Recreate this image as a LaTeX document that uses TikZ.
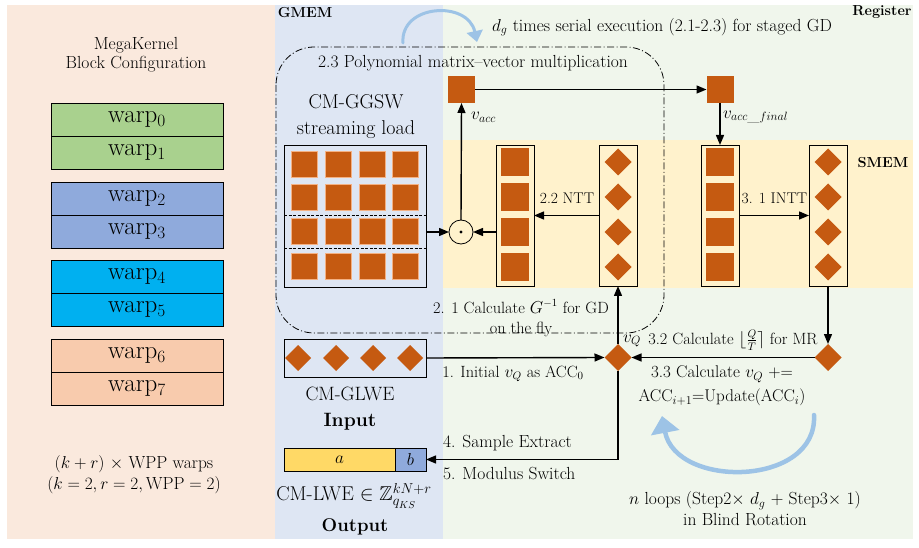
\documentclass[tikz,border=0pt]{standalone}
\usepackage{amssymb}
\usepackage{fontspec}
\usetikzlibrary{arrows.meta,shapes.geometric}
\definecolor{peachbg}{HTML}{FAE9DD}
\definecolor{gmembg}{HTML}{DEE6F3}
\definecolor{regbg}{HTML}{F0F6EC}
\definecolor{smembg}{HTML}{FFF2CC}
\definecolor{rust}{HTML}{C55A11}
\definecolor{rustlight}{HTML}{F4B183}
\definecolor{wgreen}{HTML}{A9D18E}
\definecolor{wblue}{HTML}{8FAADC}
\definecolor{wcyan}{HTML}{00B0F0}
\definecolor{wpeach}{HTML}{F8CBAD}
\definecolor{ayellow}{HTML}{FFD966}
\definecolor{arcblue}{HTML}{9DC3E6}
\newcommand{\fsz}[2]{\fontsize{#1}{#2}\selectfont}
\tikzset{
  every node/.style={inner sep=0pt, outer sep=0pt},
  lbl/.style={font=\fsz{17.5}{19}, align=center},
  midlbl/.style={font=\fsz{16.3}{20}, align=center},
  bigtxt/.style={font=\fsz{20}{26}, align=center},
  hdr/.style={font=\fsz{14.5}{17}\bfseries},
  bx/.style={draw=black, line width=0.8pt},
  warpbox/.style={bx, minimum width=172pt, minimum height=33pt, font=\fsz{25}{26}},
  colbox/.style={bx, minimum width=38pt, minimum height=141pt},
  sq/.style={fill=rust, minimum size=28pt},
  gsq/.style={fill=rust, draw=rustlight, line width=0.5pt, minimum size=26pt},
  dia/.style={diamond, fill=rust, minimum size=27pt},
  arr/.style={-{Triangle[length=10pt,width=8pt]}, line width=1.4pt},
  blarc/.style={draw=arcblue, line cap=round},
  dashdotframe/.style={line width=0.8pt, dash pattern=on 7pt off 2.5pt on 1pt off 2.5pt},
}
\begin{document}
\begin{tikzpicture}[x=1pt,y=-1pt]
\useasboundingbox (0,0) rectangle (919,548);
\fill[white] (0,0) rectangle (919,548);
% panels
\fill[peachbg] (7,5) rectangle (275,539);
\fill[gmembg] (275,5) rectangle (443,539);
\fill[regbg] (443,5) rectangle (913,539);
\fill[smembg] (443,140) rectangle (913,288);

% headers
\node[hdr] (gmem) at (305,13) {GMEM};
\node[hdr] (reg) at (882,12) {Register};
\node[hdr] (smem) at (883,163) {SMEM};

% left panel
\node[lbl] (mk) at (136,55) {MegaKernel\\Block Configuration};
\node[warpbox, fill=wgreen] (w0) at (137,119.5) {warp$_0$};
\node[warpbox, fill=wgreen] (w1) at (137,152.5) {warp$_1$};
\node[warpbox, fill=wblue] (w2) at (137,198.5) {warp$_2$};
\node[warpbox, fill=wblue] (w3) at (137,231.5) {warp$_3$};
\node[warpbox, fill=wcyan] (w4) at (137,276.5) {warp$_4$};
\node[warpbox, fill=wcyan] (w5) at (137,309.5) {warp$_5$};
\node[warpbox, fill=wpeach] (w6) at (137,355.5) {warp$_6$};
\node[warpbox, fill=wpeach] (w7) at (137,388.5) {warp$_7$};
\node[lbl, font=\fsz{17.5}{21}] (cfg) at (134,474.5) {$(k+r)\ \times$ WPP warps\\$(k=2, r=2, \mathrm{WPP}=2)$};

% top blue arc
\draw[blarc, line width=3pt, -{Triangle[length=11pt,width=16pt]}] (403,43) .. controls (400,4) and (468,0) .. (477,42);
\node[lbl] (dgtxt) at (662,27) {$d_g$ times serial execution (2.1-2.3) for staged GD};

% dash-dot frame
\draw[dashdotframe, rounded corners=38pt] (276,47) rectangle (664,333);
\node[lbl] (polytxt) at (473,63) {2.3 Polynomial matrix--vector multiplication};

% GGSW
\node[bigtxt] (ggswtxt) at (356,117) {CM-GGSW\\streaming load};
\node[bx, minimum width=142pt, minimum height=142pt] (ggsw) at (355,216) {};
\foreach \x [count=\i] in {304,338,372,405.5}
  \foreach \y [count=\j] in {164,197,231.5,266}
    \node[gsq] (g\i\j) at (\x,\y) {};
\draw[dashed, line width=0.6pt, dash pattern=on 3pt off 1.5pt] (ggsw.west |- 0,215.5) -- (ggsw.east |- 0,215.5);
\draw[dashed, line width=0.6pt, dash pattern=on 3pt off 1.5pt] (ggsw.west |- 0,248) -- (ggsw.east |- 0,248);

% product circle
\node[circle, bx, minimum size=24pt] (dot) at (461,232) {};
\fill (dot.center) circle (1.6pt);

% registers
\node[sq, minimum size=27pt] (vacc) at (461.5,89.5) {};
\node[sq, minimum size=27pt] (vfin) at (720,89.5) {};

% SMEM columns
\node[colbox] (colA) at (515,215.5) {};
\node[colbox] (colB) at (618,215.5) {};
\node[colbox] (colC) at (720,215.5) {};
\node[colbox] (colD) at (828,215.5) {};
\foreach \y [count=\j] in {162,197,232,267} {
  \node[sq] (a\j) at (515,\y) {};
  \node[dia] (b\j) at (618,\y) {};
  \node[sq] (c\j) at (720,\y) {};
  \node[dia] (d\j) at (828,\y) {};
}

% diamonds in register
\node[dia] (vq) at (618,357.5) {};
\node[dia] (mr) at (828,357.5) {};

% GLWE input
\node[bx, minimum width=142pt, minimum height=38pt] (glwe) at (355,358) {};
\foreach \x [count=\i] in {298,336,373,410}
  \node[dia, minimum size=26pt] (gl\i) at (\x,358) {};
\node[bigtxt, font=\fsz{19.3}{26}] (glwetxt) at (350,409) {CM-GLWE\\\textbf{Input}};

% LWE output
\node[bx, fill=ayellow, minimum width=111pt, minimum height=23pt, font=\fsz{16}{18}] (lwea) at (339.5,459.5) {$a$};
\node[bx, fill=wblue, minimum width=31pt, minimum height=23pt, font=\fsz{16}{18}] (lweb) at (410.5,459.5) {$b$};
\node[bigtxt, font=\fsz{20}{20}] (lwetxt) at (354,496) {CM-LWE $\in \mathbb{Z}_{q_{KS}}^{kN+r}$};
\node[bigtxt, font=\fsz{18.5}{20}\bfseries] (outtxt) at (355,526.5) {Output};

% connectors
\draw[arr] (vacc.east) -- (vfin.west);
\draw[arr] (vfin.south) -- (colC.north);
\draw[arr] (dot.north) -- (vacc.south);
\draw[arr] (ggsw.east |- dot.west) -- (dot.west);
\draw[arr] (colA.west |- dot.east) -- (dot.east);
\draw[arr] (colB.west) -- (colA.east);
\draw[arr] (colC.east) -- (colD.west);
\draw[arr] (vq.north) -- (colB.south);
\draw[arr] (colD.south) -- (mr.north);
\draw[arr] (mr.west) -- (vq.east);
\draw[arr] (glwe.east) -- (vq.west);
\draw[arr] (vq.south) |- (lweb.east);

% labels
\node[lbl, anchor=west] (vacctxt) at (471,117) {$v_{acc}$};
\node[lbl, anchor=west] (vfintxt) at (723,117) {$v_{acc\_final}$};
\node[lbl, font=\fsz{15.5}{19}] (ntt) at (567,198) {2.2 NTT};
\node[lbl, font=\fsz{15.5}{19}] (intt) at (774.5,198) {3. 1 INTT};
\node[midlbl] (ginv) at (521,318) {2. 1 Calculate $G^{-1}$ for GD\\on the fly};
\node[lbl] (vqtxt) at (632,341) {$v_Q$};
\node[midlbl] (mrtxt) at (733,340.5) {3.2 Calculate $\bigl\lfloor\frac{Q}{T}\bigr\rceil$ for MR};
\node[midlbl] (inittxt) at (513,374) {1. Initial $v_Q$ as ACC$_0$};
\node[lbl, font=\fsz{17}{24}] (updtxt) at (722,386) {3.3 Calculate $v_Q$ +=\\ACC$_{i+1}$=Update(ACC$_i$)};
\node[lbl, anchor=west] (setxt) at (443,443) {4. Sample Extract};
\node[lbl, anchor=west] (mstxt) at (443,474) {5. Modulus Switch};

% bottom blue arc
\draw[blarc, line width=4.5pt, -{Triangle[length=17pt,width=28pt]}] (814,415) .. controls (818,487) and (676,489) .. (662,416);
\node[lbl, font=\fsz{17.5}{21}] (looptxt) at (745,508.5) {$n$ loops (Step2$\times$ $d_g$ + Step3$\times$ 1)\\in Blind Rotation};
\end{tikzpicture}
\end{document}
